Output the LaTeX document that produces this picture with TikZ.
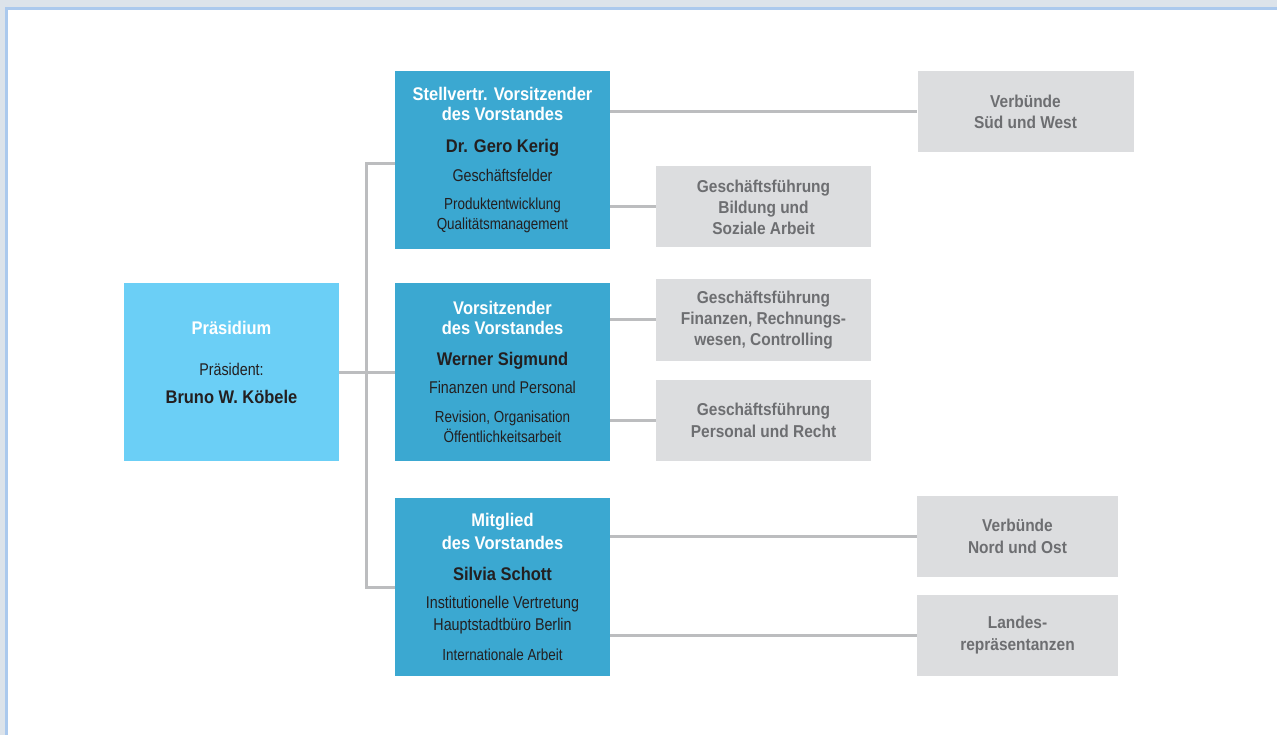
\documentclass[tikz,border=0pt]{standalone}
\usepackage{fontspec}
\usepackage{tikz}
\usepackage{xcolor}
\usetikzlibrary{positioning}
\setmainfont{Liberation Sans}[FakeStretch=0.84]
\newfontfamily\headfont{Liberation Sans}[FakeStretch=0.9]

\definecolor{deepblue}{HTML}{3BA8D1}
\definecolor{lightblue}{HTML}{6BCFF6}
\definecolor{panelgrey}{HTML}{DCDDDF}
\definecolor{linegrey}{HTML}{BCBDBF}
\definecolor{inkdark}{HTML}{231F20}
\definecolor{inkgrey}{HTML}{6D6E71}
\definecolor{framebg}{HTML}{DCE3EA}
\definecolor{frameline}{HTML}{ABC9ED}

\newcommand\headtxt{\headfont\bfseries\fontsize{18.3}{20}\selectfont\color{white}}
\newcommand\nametxt{\headfont\bfseries\fontsize{18.3}{20}\selectfont\color{inkdark}}
\newcommand\fieldtxt{\fontsize{17}{20}\selectfont\color{inkdark}}
\newcommand\smalltxt{\fontsize{16}{20}\selectfont\color{inkdark}}
\newcommand\greytxt{\headfont\bfseries\fontsize{17.2}{20}\selectfont\color{inkgrey}}

\tikzset{
  board/.style={fill=deepblue, minimum width=215pt, minimum height=178pt, inner sep=0pt, align=center, font=\fontsize{18}{20}\selectfont},
  chair/.style={fill=lightblue, minimum width=215pt, minimum height=178pt, inner sep=0pt, align=center, font=\fontsize{18}{20}\selectfont},
  unit/.style={fill=panelgrey, minimum height=81pt, inner sep=0pt, align=center, font=\fontsize{18}{20}\selectfont},
  link/.style={draw=linegrey, line width=3pt}
}

\begin{document}
\begin{tikzpicture}[x=1pt, y=-1pt]
    \useasboundingbox (0,0) rectangle (1277,735);
    \fill[framebg] (0,0) rectangle (1277,735);
    \draw[frameline, line width=3pt, fill=white] (6.5,8.5) rectangle (1290,750);

    % Praesidium und Vorstand
    \node[chair] (pr) at (231.5,372) {\headtxt Präsidium\\[21pt] \fieldtxt Präsident:\\[8pt] \nametxt Bruno W. Köbele\\ {}};
    \node[board] (k1) at (502.5,160) {\headtxt Stellvertr. Vorsitzender\\ \headtxt des Vorstandes\\[12pt] \nametxt Dr. Gero Kerig\\[9pt] \fieldtxt Geschäftsfelder\\[8pt] \smalltxt Produktentwicklung\\ \smalltxt Qualitätsmanagement};
    \node[board] (k2) at (502.5,372) {\headtxt Vorsitzender\\ \headtxt des Vorstandes\\[11pt] \nametxt Werner Sigmund\\[8pt] \fieldtxt Finanzen und Personal\\[9pt] \smalltxt Revision, Organisation\\ \smalltxt Öffentlichkeitsarbeit};
    \node[board] (k3) at (502.5,587) {\headtxt Mitglied\\[3pt] \headtxt des Vorstandes\\[11pt] \nametxt Silvia Schott\\[8pt] \fieldtxt Institutionelle Vertretung\\[2pt] \fieldtxt Hauptstadtbüro Berlin\\[10pt] \smalltxt Internationale Arbeit};

    % Geschaeftsfuehrungen
    \node[unit, minimum width=216pt] (sw) at (1025.5,111.5) {\greytxt Verbünde\\[1pt] \greytxt Süd und West};
    \node[unit, minimum width=215pt] (bs) at (763.5,207) {\greytxt Geschäftsführung\\[1pt] \greytxt Bildung und\\[1pt] \greytxt Soziale Arbeit};
    \node[unit, minimum width=215pt] (fr) at (763.5,320) {\greytxt Geschäftsführung\\[1pt] \greytxt Finanzen, Rechnungs-\\[1pt] \greytxt wesen, Controlling};
    \node[unit, minimum width=215pt] (pe) at (763.5,420) {\greytxt Geschäftsführung\\[2pt] \greytxt Personal und Recht};
    \node[unit, minimum width=201pt] (no) at (1017.5,536.5) {\greytxt Verbünde\\[2pt] \greytxt Nord und Ost};
    \node[unit, minimum width=201pt] (lr) at (1017.5,635.5) {\greytxt Landes-\\[2pt] \greytxt repräsentanzen};

    % Verbindungen
    \draw[link] (pr.east) -- (k2.west);
    \draw[link] ([yshift=-4pt]k1.west) -- ++(-28,0) |- (k3.west);
    \draw[link] (sw.west -| k1.east) -- (sw.west);
    \draw[link] (bs.west -| k1.east) -- (bs.west);
    \draw[link] (fr.west -| k2.east) -- (fr.west);
    \draw[link] (pe.west -| k2.east) -- (pe.west);
    \draw[link] (no.west -| k3.east) -- (no.west);
    \draw[link] (lr.west -| k3.east) -- (lr.west);
\end{tikzpicture}
\end{document}
